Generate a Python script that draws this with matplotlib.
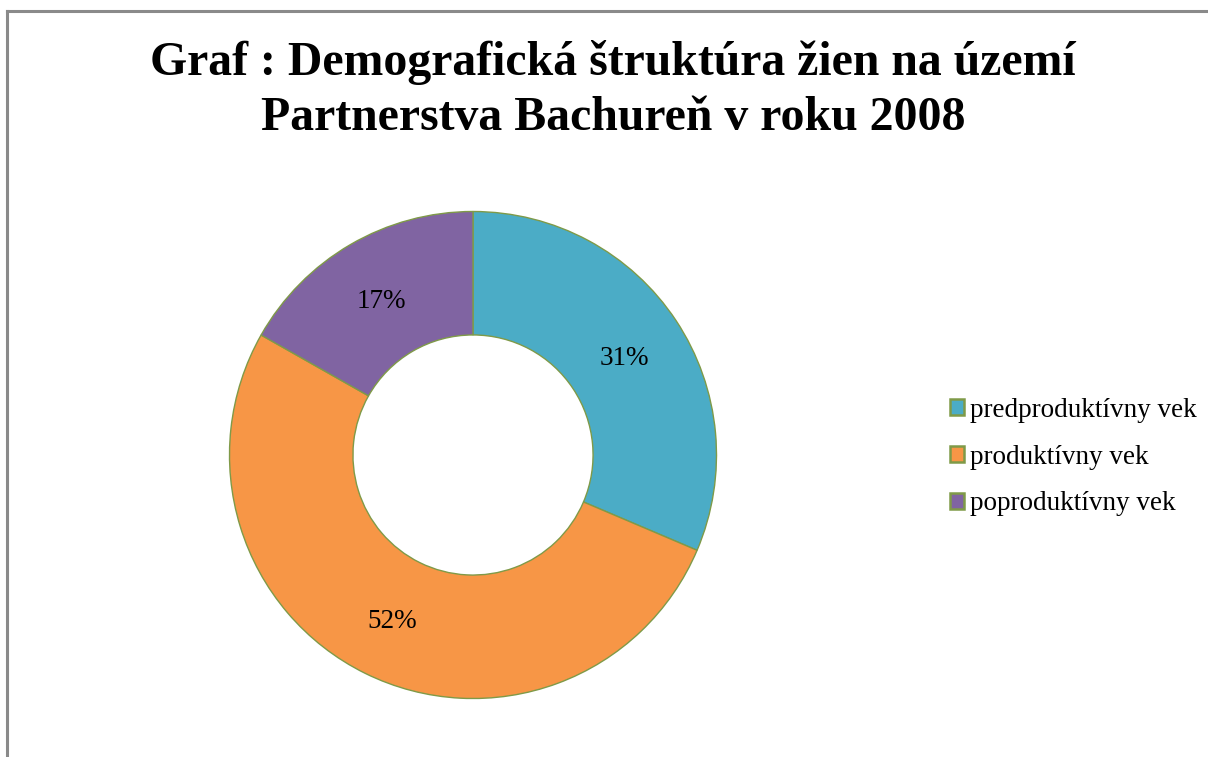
import matplotlib
matplotlib.use("Agg")
import matplotlib.pyplot as plt
from matplotlib.patches import Patch
from matplotlib.lines import Line2D
import numpy as np

# Data
categories = ["predproduktívny vek", "produktívny vek", "poproduktívny vek"]
values = [31.4, 51.8, 16.8]
pct_labels = ["31%", "52%", "17%"]
colors = ["#4BACC6", "#F79646", "#8064A2"]
title_lines = ["Graf : Demografická štruktúra žien na území",
               "Partnerstva Bachureň v roku 2008"]

W, H = 1208, 757
fig = plt.figure(figsize=(W / 100, H / 100), dpi=100)
fig.patch.set_facecolor("white")
plt.rcParams["font.family"] = ["Liberation Serif", "DejaVu Serif"]

edge = "#7F9A48"

# donut axes
cx, cy, R = 473, 455, 243.5
lim = 1.03
ax = fig.add_axes([(cx - R * lim) / W, 1 - (cy + R * lim) / H,
                   2 * R * lim / W, 2 * R * lim / H])
wedges, _ = ax.pie(values, colors=colors, startangle=90, counterclock=False,
                   radius=1.0,
                   wedgeprops=dict(width=0.507, edgecolor=edge, linewidth=1.0))
total = sum(values)
start = 90.0
for v, lab in zip(values, pct_labels):
    mid = start - v / total * 360 / 2
    r = 0.745
    ax.text(r * np.cos(np.radians(mid)), r * np.sin(np.radians(mid)) - 0.015, lab,
            ha="center", va="center", fontsize=19.5, color="black")
    start -= v / total * 360
ax.set_xlim(-lim, lim)
ax.set_ylim(-lim, lim)
ax.set_aspect("auto")
ax.axis("off")

# title
fig.text(613 / W, 1 - 75 / H, title_lines[0], ha="center", va="baseline",
         fontsize=34.4, fontweight="bold")
fig.text(613 / W, 1 - 130 / H, title_lines[1], ha="center", va="baseline",
         fontsize=34.4, fontweight="bold")

# legend
handles = [Patch(facecolor=c, edgecolor=edge, linewidth=1.8) for c in colors]
leg = fig.legend(handles, categories, loc="center left",
                 bbox_to_anchor=(950 / W, 1 - 457 / H),
                 frameon=False, fontsize=19.5, handlelength=0.5,
                 handleheight=0.5, handletextpad=0.25, labelspacing=0.81,
                 borderaxespad=0, borderpad=0)

# border
fig.add_artist(Line2D([7.5 / W, 1.0], [1 - 10.5 / H, 1 - 10.5 / H],
                      transform=fig.transFigure, color="#8A8A8A", linewidth=2.2))
fig.add_artist(Line2D([7.5 / W, 7.5 / W], [1 - 10.5 / H, 0.0],
                      transform=fig.transFigure, color="#8A8A8A", linewidth=2.2))

fig.savefig("out.png", dpi=100)
